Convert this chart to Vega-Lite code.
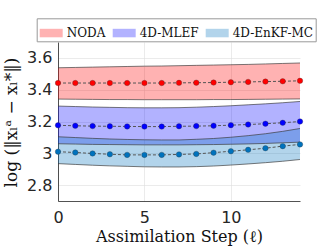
{
  "$schema": "https://vega.github.io/schema/vega-lite/v6.json",
  "autosize": {"type": "none"},
  "padding": {"left": 58, "top": 42, "right": 32, "bottom": 49},
  "width": 242,
  "height": 159,
  "background": "white",
  "config": {
    "view": {"stroke": null},
    "axis": {
      "domainColor": "#262626", "domainWidth": 0.8,
      "labelColor": "#262626", "labelFont": "DejaVu Sans", "labelFontSize": 16, "labelOverlap": false,
      "ticks": false, "gridColor": "#dedede", "gridWidth": 0.6,
      "titleFont": "DejaVu Serif", "titleFontWeight": "normal", "titleColor": "#111", "titleFontSize": 16
    }
  },
  "data": {"values": [
    {"s":"NODA","t":0,"m":3.442,"lo":3.341,"hi":3.538},
    {"s":"NODA","t":1,"m":3.442,"lo":3.340,"hi":3.540},
    {"s":"NODA","t":2,"m":3.442,"lo":3.339,"hi":3.542},
    {"s":"NODA","t":3,"m":3.442,"lo":3.338,"hi":3.544},
    {"s":"NODA","t":4,"m":3.442,"lo":3.338,"hi":3.546},
    {"s":"NODA","t":5,"m":3.442,"lo":3.337,"hi":3.548},
    {"s":"NODA","t":6,"m":3.442,"lo":3.337,"hi":3.549},
    {"s":"NODA","t":7,"m":3.443,"lo":3.337,"hi":3.551},
    {"s":"NODA","t":8,"m":3.444,"lo":3.337,"hi":3.553},
    {"s":"NODA","t":9,"m":3.445,"lo":3.338,"hi":3.555},
    {"s":"NODA","t":10,"m":3.447,"lo":3.338,"hi":3.557},
    {"s":"NODA","t":11,"m":3.449,"lo":3.339,"hi":3.559},
    {"s":"NODA","t":12,"m":3.451,"lo":3.340,"hi":3.562},
    {"s":"NODA","t":13,"m":3.453,"lo":3.341,"hi":3.565},
    {"s":"NODA","t":14,"m":3.456,"lo":3.342,"hi":3.568},
    {"s":"4D-MLEF","t":0,"m":3.176,"lo":3.060,"hi":3.297},
    {"s":"4D-MLEF","t":1,"m":3.173,"lo":3.058,"hi":3.294},
    {"s":"4D-MLEF","t":2,"m":3.171,"lo":3.056,"hi":3.291},
    {"s":"4D-MLEF","t":3,"m":3.170,"lo":3.055,"hi":3.289},
    {"s":"4D-MLEF","t":4,"m":3.169,"lo":3.054,"hi":3.287},
    {"s":"4D-MLEF","t":5,"m":3.168,"lo":3.053,"hi":3.286},
    {"s":"4D-MLEF","t":6,"m":3.168,"lo":3.053,"hi":3.286},
    {"s":"4D-MLEF","t":7,"m":3.170,"lo":3.053,"hi":3.287},
    {"s":"4D-MLEF","t":8,"m":3.171,"lo":3.054,"hi":3.290},
    {"s":"4D-MLEF","t":9,"m":3.173,"lo":3.055,"hi":3.294},
    {"s":"4D-MLEF","t":10,"m":3.177,"lo":3.057,"hi":3.299},
    {"s":"4D-MLEF","t":11,"m":3.181,"lo":3.059,"hi":3.305},
    {"s":"4D-MLEF","t":12,"m":3.186,"lo":3.062,"hi":3.311},
    {"s":"4D-MLEF","t":13,"m":3.192,"lo":3.066,"hi":3.318},
    {"s":"4D-MLEF","t":14,"m":3.200,"lo":3.070,"hi":3.326},
    {"s":"4D-EnKF-MC","t":0,"m":3.010,"lo":2.935,"hi":3.104},
    {"s":"4D-EnKF-MC","t":1,"m":3.005,"lo":2.930,"hi":3.099},
    {"s":"4D-EnKF-MC","t":2,"m":2.999,"lo":2.925,"hi":3.094},
    {"s":"4D-EnKF-MC","t":3,"m":2.994,"lo":2.921,"hi":3.090},
    {"s":"4D-EnKF-MC","t":4,"m":2.990,"lo":2.918,"hi":3.087},
    {"s":"4D-EnKF-MC","t":5,"m":2.990,"lo":2.915,"hi":3.085},
    {"s":"4D-EnKF-MC","t":6,"m":2.990,"lo":2.914,"hi":3.084},
    {"s":"4D-EnKF-MC","t":7,"m":2.993,"lo":2.914,"hi":3.084},
    {"s":"4D-EnKF-MC","t":8,"m":2.996,"lo":2.916,"hi":3.088},
    {"s":"4D-EnKF-MC","t":9,"m":3.004,"lo":2.920,"hi":3.093},
    {"s":"4D-EnKF-MC","t":10,"m":3.013,"lo":2.926,"hi":3.101},
    {"s":"4D-EnKF-MC","t":11,"m":3.022,"lo":2.933,"hi":3.111},
    {"s":"4D-EnKF-MC","t":12,"m":3.032,"lo":2.941,"hi":3.123},
    {"s":"4D-EnKF-MC","t":13,"m":3.045,"lo":2.950,"hi":3.138},
    {"s":"4D-EnKF-MC","t":14,"m":3.056,"lo":2.961,"hi":3.156}
  ]},
  "encoding": {
    "x": {"field": "t", "type": "quantitative",
      "scale": {"domain": [0, 14], "nice": false, "zero": false},
      "axis": {"values": [0, 5, 10], "labelPadding": 8, "title": "Assimilation Step (ℓ)",
        "titleX": 121, "titleY": 40, "titleBaseline": "alphabetic", "titleAnchor": "middle", "labelFlush": false}
    }
  },
  "layer": [
    {
      "mark": {"type": "area", "opacity": 0.3},
      "encoding": {
        "y": {"field": "lo", "type": "quantitative",
          "scale": {"domain": [2.7, 3.7], "nice": false, "zero": false},
          "axis": {"values": [2.8, 3, 3.2, 3.4, 3.6], "format": ".1~f", "labelPadding": 6, "labelOverlap": false,
            "title": "log (‖xₗᵃ − xₗ*‖)", "titleAngle": -90, "titleX": -47, "titleY": 80,
            "titleBaseline": "middle", "titleAlign": "center", "titleFontSize": 17}},
        "y2": {"field": "hi"},
        "color": {"field": "s", "type": "nominal",
          "scale": {"domain": ["NODA", "4D-MLEF", "4D-EnKF-MC"], "range": ["#ff0000", "#0000ff", "#0072bd"]},
          "legend": {
            "title": null, "orient": "none", "legendX": -21.3, "legendY": -23.7,
            "direction": "horizontal", "columns": 3, "padding": 2, "columnPadding": 6,
            "labelOffset": 3, "symbolSize": 529, "symbolType": "M-1,-0.37H1V0.37H-1Z",
            "labelFont": "DejaVu Serif", "labelFontSize": 12, "labelColor": "#111",
            "strokeColor": "#999", "fillColor": "white",
            "encode": {"symbols": {"update": {"fillOpacity": {"value": 0.3}, "opacity": {"value": 1},
              "stroke": {"value": "#555"}, "strokeWidth": {"value": 0.8}, "strokeOpacity": {"value": 1}}}}
          }
        }
      }
    },
    {
      "transform": [{"fold": ["lo", "hi"], "as": ["k", "v"]}],
      "mark": {"type": "line", "color": "#3a3a3a", "strokeWidth": 0.8, "opacity": 0.85},
      "encoding": {
        "y": {"field": "v", "type": "quantitative",
          "axis": {"values": [2.8, 3, 3.2, 3.4, 3.6], "format": ".1~f", "labelPadding": 6, "labelOverlap": false,
            "title": "log (‖xₗᵃ − xₗ*‖)", "titleAngle": -90, "titleX": -47, "titleY": 80,
            "titleBaseline": "middle", "titleAlign": "center", "titleFontSize": 17}},
        "detail": [{"field": "s"}, {"field": "k"}]
      }
    },
    {
      "mark": {"type": "line", "color": "#555555", "strokeWidth": 1, "strokeDash": [3, 2]},
      "encoding": {
        "y": {"field": "m", "type": "quantitative",
          "axis": {"values": [2.8, 3, 3.2, 3.4, 3.6], "format": ".1~f", "labelPadding": 6, "labelOverlap": false,
            "title": "log (‖xₗᵃ − xₗ*‖)", "titleAngle": -90, "titleX": -47, "titleY": 80,
            "titleBaseline": "middle", "titleAlign": "center", "titleFontSize": 17}},
        "detail": {"field": "s"}
      }
    },
    {
      "mark": {"type": "circle", "size": 30, "opacity": 1, "stroke": "#333", "strokeWidth": 0.5, "strokeOpacity": 0.6},
      "encoding": {
        "y": {"field": "m", "type": "quantitative",
          "axis": {"values": [2.8, 3, 3.2, 3.4, 3.6], "format": ".1~f", "labelPadding": 6, "labelOverlap": false,
            "title": "log (‖xₗᵃ − xₗ*‖)", "titleAngle": -90, "titleX": -47, "titleY": 80,
            "titleBaseline": "middle", "titleAlign": "center", "titleFontSize": 17}},
        "fill": {"field": "s", "type": "nominal",
          "scale": {"domain": ["NODA", "4D-MLEF", "4D-EnKF-MC"], "range": ["#ff0000", "#0000ff", "#0072bd"]},
          "legend": null}
      }
    }
  ]
}
